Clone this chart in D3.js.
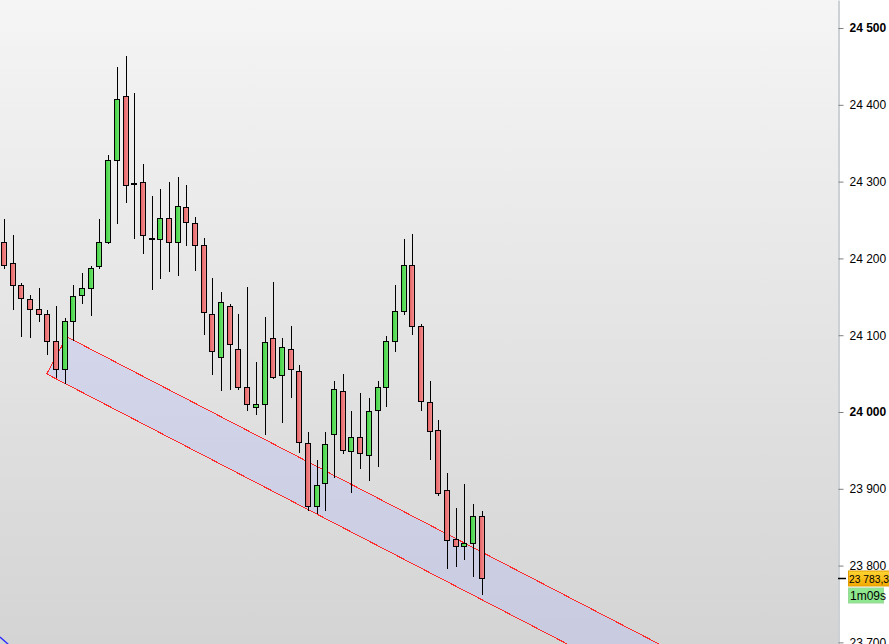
<!DOCTYPE html>
<html>
<head>
<meta charset="utf-8">
<script src="https://cdn.jsdelivr.net/npm/d3@7/dist/d3.min.js"></script>
<style>
  html, body { margin: 0; padding: 0; background: #ffffff; }
  svg { display: block; font-family: "Liberation Sans", Arial, sans-serif; }
</style>
</head>
<body>
<svg id="chart" width="889" height="644"></svg>
<script>
// ---- data ----
const opens  = [24222,24194,24165,24147,24134,24127,24092,24056,24119,24153,24161,24190,24222,24328,24411,24297,24299,24227,24225,24252,24222,24267,24246,24217,24127,24071,24138,24082,24033,24007,24011,24096,24048,24082,24054,23959,23877,23907,23971,24027,23949,23968,23944,24003,24032,24093,24132,24192,24112,24013,23976,23898,23835,23825,23829,23864];
const highs  = [24251,24230,24168,24152,24161,24133,24138,24123,24166,24181,24190,24251,24335,24449,24464,24415,24323,24281,24290,24299,24306,24296,24254,24226,24174,24156,24140,24128,24163,24065,24124,24169,24097,24112,24061,23974,23938,23974,24040,24049,24001,24025,24018,24040,24099,24165,24225,24232,24114,24040,23990,23921,23875,23906,23880,23871];
const lows   = [24188,24134,24099,24098,24118,24076,24046,24038,24094,24142,24126,24188,24220,24246,24273,24227,24207,24160,24175,24184,24179,24217,24185,24102,24049,24029,24030,24030,24002,23997,23972,24044,23987,24019,23948,23872,23869,23872,23916,23946,23896,23927,23911,23930,24008,24079,24127,24102,24002,23939,23892,23797,23799,23808,23787,23763];
const closes = [24192,24166,24148,24134,24127,24092,24056,24119,24151,24161,24188,24222,24328,24408,24296,24298,24230,24227,24252,24221,24268,24247,24217,24130,24079,24143,24089,24033,24011,24011,24091,24046,24084,24056,23961,23877,23905,23958,24030,23951,23968,23946,24001,24032,24093,24132,24192,24112,24014,23975,23895,23833,23825,23829,23865,23783.3];
const tickValues = [24500,24400,24300,24200,24100,24000,23900,23800,23700];
const boldTicks = [24500,24000];
const lastPrice = 23783.3;
const timerText = "1m09s";
// channel (bar index, price)
const channelUpper = [[7.18, 24098], [150, 23259.6]];
const channelLower = [[4.88, 24049.5], [150, 23197.6]];
const blueLine = [[-0.5, 23707], [0.5, 23697]];

// ---- layout ----
const W = 889, H = 644, plotW = 838;
const svg = d3.select("#chart");
const x = d3.scaleLinear().domain([-0.5, 95.93]).range([0, plotW]);
const y = d3.scaleLinear().domain([23697.9, 24536.5]).range([H, 0]);
const loc = d3.formatLocale({decimal: ",", thousands: " ", grouping: [3], currency: ["", ""]});
const fmtTick = loc.format(",.0f");
const fmtPrice = loc.format(",.1f");

const defs = svg.append("defs");
const bg = defs.append("linearGradient").attr("id", "bg").attr("x1", 0).attr("y1", 0).attr("x2", 0).attr("y2", 1);
bg.append("stop").attr("offset", "0%").attr("stop-color", "#f5f5f5");
bg.append("stop").attr("offset", "100%").attr("stop-color", "#d4d4d4");
const gr = defs.append("linearGradient").attr("id", "redG").attr("x1", 0).attr("y1", 0).attr("x2", 1).attr("y2", 0);
gr.append("stop").attr("offset", "0%").attr("stop-color", "#e25f62");
gr.append("stop").attr("offset", "100%").attr("stop-color", "#f59293");
const gg = defs.append("linearGradient").attr("id", "greenG").attr("x1", 0).attr("y1", 0).attr("x2", 1).attr("y2", 0);
gg.append("stop").attr("offset", "0%").attr("stop-color", "#3fd03f");
gg.append("stop").attr("offset", "100%").attr("stop-color", "#74e574");
const og = defs.append("linearGradient").attr("id", "orangeG").attr("x1", 0).attr("y1", 0).attr("x2", 0).attr("y2", 1);
og.append("stop").attr("offset", "0%").attr("stop-color", "#ffd633");
og.append("stop").attr("offset", "100%").attr("stop-color", "#f2a900");
defs.append("clipPath").attr("id", "plotClip").append("rect").attr("x", 0).attr("y", 0).attr("width", plotW).attr("height", H);

svg.append("rect").attr("x", 0).attr("y", 0).attr("width", W).attr("height", H).attr("fill", "#ffffff");
svg.append("rect").attr("x", 0).attr("y", 0).attr("width", plotW).attr("height", H).attr("fill", "url(#bg)");

const plot = svg.append("g").attr("clip-path", "url(#plotClip)");

// channel
const poly = [channelUpper[0], channelUpper[1], channelLower[1], channelLower[0]].map(d => [x(d[0]), y(d[1])]);
plot.append("polygon")
  .attr("points", poly.map(p => p.join(",")).join(" "))
  .attr("fill", "rgb(180,190,245)").attr("fill-opacity", 0.35)
  .attr("stroke", "#ff2a2a").attr("stroke-width", 1)
  .attr("shape-rendering", "crispEdges");

// blue line
plot.append("line")
  .attr("x1", x(blueLine[0][0])).attr("y1", y(blueLine[0][1]))
  .attr("x2", x(blueLine[1][0])).attr("y2", y(blueLine[1][1]))
  .attr("stroke", "#2a2aff").attr("stroke-width", 1.3);

// candles
const bars = opens.map((o, i) => ({i, o, h: highs[i], l: lows[i], c: closes[i]}));
const cg = plot.append("g");
bars.forEach(d => {
  const wx = Math.round(x(d.i) - 0.5) + 0.5;
  cg.append("line")
    .attr("x1", wx).attr("x2", wx)
    .attr("y1", Math.round(y(d.h))).attr("y2", Math.round(y(d.l)) + 1)
    .attr("stroke", "#000").attr("stroke-width", 1)
    .attr("shape-rendering", "crispEdges");
  const top = Math.round(y(Math.max(d.o, d.c))) + 0.5;
  const bot = Math.round(y(Math.min(d.o, d.c))) + 0.5;
  cg.append("rect")
    .attr("x", wx - 3).attr("y", top)
    .attr("width", 5).attr("height", Math.max(1, bot - top))
    .attr("fill", d.c < d.o ? "url(#redG)" : "url(#greenG)")
    .attr("stroke", "#000").attr("stroke-width", 1)
    .attr("shape-rendering", "crispEdges");
});

// axis
const axis = d3.axisRight(y).tickValues(tickValues).tickFormat(fmtTick).tickSize(5).tickSizeOuter(0).tickPadding(6);
const ag = svg.append("g").attr("transform", `translate(${plotW + 0.5},0)`).call(axis);
ag.select(".domain").attr("stroke", "#9aa3ab");
ag.selectAll(".tick line").attr("stroke", "#7f7f7f");
ag.selectAll(".tick text")
  .attr("fill", "#000").attr("font-size", 12)
  .attr("font-family", "'Liberation Sans', Arial, sans-serif")
  .attr("font-weight", d => boldTicks.includes(d) ? "bold" : "normal");

// last price marker
const py = Math.round(y(lastPrice)) + 0.5;
svg.append("line").attr("x1", plotW).attr("x2", plotW + 8).attr("y1", py).attr("y2", py)
  .attr("stroke", "#000").attr("stroke-width", 1.5);
svg.append("rect").attr("x", 848.5).attr("y", py - 7.5).attr("width", 45).attr("height", 15)
  .attr("fill", "url(#orangeG)").attr("stroke", "#e0a000").attr("stroke-width", 1);
svg.append("text").attr("x", 849).attr("y", py + 4.5).attr("font-size", 11.5).attr("fill", "#000")
  .attr("textLength", 40).attr("lengthAdjust", "spacingAndGlyphs")
  .text(fmtPrice(lastPrice));
svg.append("rect").attr("x", 848.5).attr("y", py + 9.5).attr("width", 35).attr("height", 15)
  .attr("fill", "#8fe88f").attr("stroke", "#9ad89a").attr("stroke-width", 1);
svg.append("text").attr("x", 850).attr("y", py + 21.5).attr("font-size", 12).attr("fill", "#000")
  .text(timerText);
</script>
</body>
</html>
